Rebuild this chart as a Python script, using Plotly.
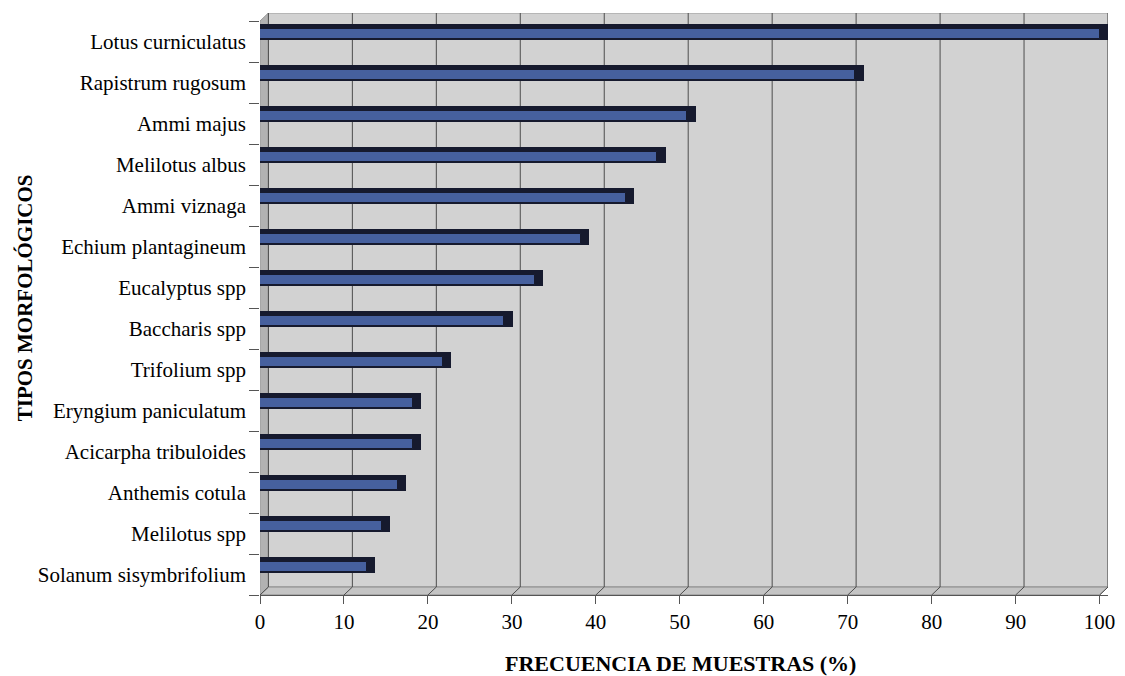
import plotly.graph_objects as go

# Frequency of each morphological pollen type across samples (%)
categories = [
    "Lotus curniculatus",
    "Rapistrum rugosum",
    "Ammi majus",
    "Melilotus albus",
    "Ammi viznaga",
    "Echium plantagineum",
    "Eucalyptus spp",
    "Baccharis spp",
    "Trifolium spp",
    "Eryngium paniculatum",
    "Acicarpha tribuloides",
    "Anthemis cotula",
    "Melilotus spp",
    "Solanum sisymbrifolium",
]
frequency = [100, 70.9, 50.9, 47.3, 43.6, 38.2, 32.7, 29.1, 21.8, 18.2, 18.2, 16.4, 14.5, 12.7]
x_ticks = [0, 10, 20, 30, 40, 50, 60, 70, 80, 90, 100]

# pseudo-3D styling constants (axis units)
DEPTH_X = 1.0
DEPTH_Y = 0.195
N = len(categories)
Y_FRONT = N - 0.5
Y_TOP = -0.5 - DEPTH_Y
Y_BACK = Y_FRONT - DEPTH_Y
X_MAX = 100 + DEPTH_X

FONT = "Liberation Serif"
WALL = "#d2d2d2"
SIDE = "#b2b2b2"
FLOOR = "#c4c4c4"
GRID = "#4d4d4d"
BAR_TOP = "#161a2e"
BAR_FRONT = "#46609e"

ypos = list(range(N))
boundaries = [i - 0.5 for i in range(N + 1)]

fig = go.Figure()

# depth face of each bar (dark top and right side)
fig.add_trace(go.Bar(
    y=ypos, x=[v + DEPTH_X for v in frequency], base=0, orientation="h",
    offset=-0.43, width=0.39, yaxis="y2",
    marker=dict(color=BAR_TOP, line=dict(width=0)),
    hoverinfo="skip", showlegend=False,
))
# front face of each bar
fig.add_trace(go.Bar(
    y=ypos, x=frequency, orientation="h",
    offset=-0.295, width=0.245, yaxis="y2",
    marker=dict(color=BAR_FRONT, line=dict(color=BAR_TOP, width=1)),
    name="Frecuencia", showlegend=False,
))

shapes = []
# back wall
shapes.append(dict(type="rect", xref="x", yref="y", x0=DEPTH_X, x1=X_MAX, y0=Y_TOP, y1=Y_BACK,
                   fillcolor=WALL, line=dict(color="#9a9a9a", width=1), layer="below"))
# left side wall
shapes.append(dict(type="path", xref="x", yref="y",
                   path=f"M 0 {-0.5} L {DEPTH_X} {Y_TOP} L {DEPTH_X} {Y_BACK} L 0 {Y_FRONT} Z",
                   fillcolor=SIDE, line=dict(color="#9a9a9a", width=1), layer="below"))
# floor
shapes.append(dict(type="path", xref="x", yref="y",
                   path=f"M 0 {Y_FRONT} L 100 {Y_FRONT} L {X_MAX} {Y_BACK} L {DEPTH_X} {Y_BACK} Z",
                   fillcolor=FLOOR, line=dict(color="#8a8a8a", width=1), layer="below"))
# gridlines on the back wall and the floor
for t in x_ticks:
    shapes.append(dict(type="line", xref="x", yref="y", x0=t + DEPTH_X, x1=t + DEPTH_X,
                       y0=Y_TOP, y1=Y_BACK, line=dict(color=GRID, width=1), layer="below"))
    shapes.append(dict(type="line", xref="x", yref="y", x0=t, x1=t + DEPTH_X,
                       y0=Y_FRONT, y1=Y_BACK, line=dict(color=GRID, width=1), layer="below"))

fig.update_layout(
    width=1125, height=676,
    margin=dict(l=260, r=10, t=13, b=81),
    paper_bgcolor="white",
    plot_bgcolor="white",
    bargap=0,
    shapes=shapes,
    font=dict(family=FONT, size=21, color="black"),
    xaxis=dict(
        range=[0, X_MAX], tickvals=x_ticks, showgrid=False, zeroline=False,
        showline=True, linecolor="#555555", linewidth=1,
        ticks="outside", ticklen=8, tickcolor="#555555",
        tickfont=dict(family=FONT, size=21, color="black"),
    ),
    yaxis=dict(
        range=[Y_FRONT, Y_TOP], tickvals=ypos, ticktext=categories,
        showgrid=False, zeroline=False, showline=False,
        ticks="", ticklabelstandoff=13,
        tickfont=dict(family=FONT, size=21, color="black"),
    ),
    # overlaid left axis carrying the bars and the category boundary tick marks
    yaxis2=dict(
        range=[Y_FRONT, Y_TOP], overlaying="y", side="left", anchor="x",
        tickvals=boundaries, showticklabels=False, showgrid=False, zeroline=False,
        showline=False, ticks="outside", ticklen=10, tickwidth=1, tickcolor="#555555",
    ),
    annotations=[
        dict(text="FRECUENCIA DE MUESTRAS (%)", xref="paper", yref="paper",
             x=0.496, y=-0.117, xanchor="center", yanchor="middle", showarrow=False,
             font=dict(family=FONT, size=22, color="black", weight="bold")),
        dict(text="TIPOS MORFOLÓGICOS", xref="paper", yref="paper",
             x=-0.277, y=0.51, xanchor="center", yanchor="middle", showarrow=False,
             textangle=-90,
             font=dict(family=FONT, size=21, color="black", weight="bold")),
    ],
)

fig.write_html("out.html")
